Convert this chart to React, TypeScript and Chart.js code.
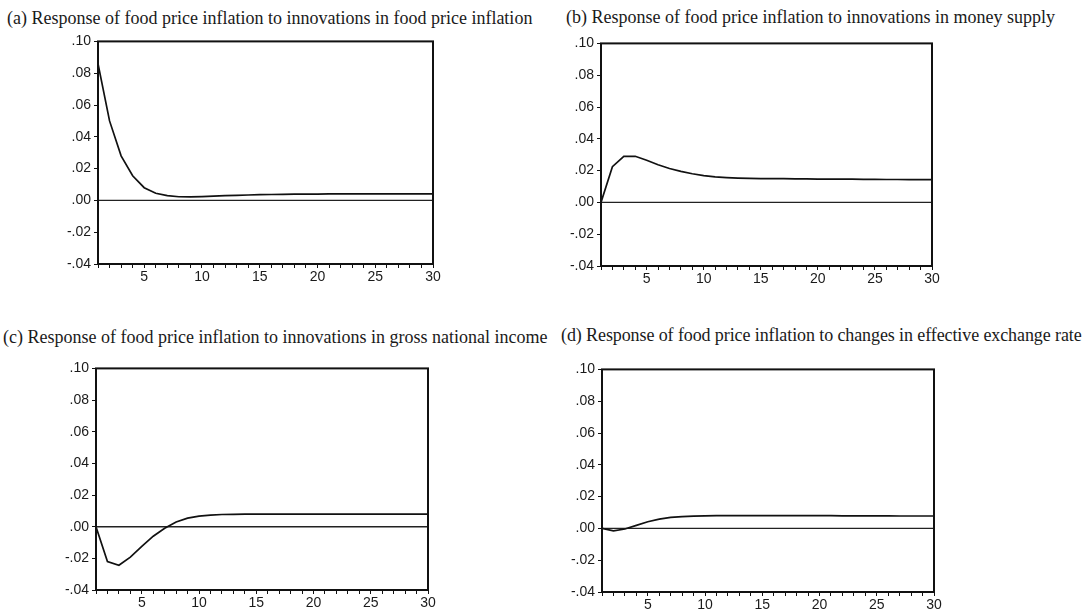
import { useEffect, useRef } from 'react';
import { Chart, registerables } from 'chart.js';

Chart.register(...registerables);

// Forecast horizon (periods after the shock)
const PERIODS = [1, 2, 3, 4, 5, 6, 7, 8, 9, 10, 11, 12, 13, 14, 15, 16, 17, 18, 19, 20, 21, 22, 23, 24, 25, 26, 27, 28, 29, 30];
const LABELED_PERIODS = [5, 10, 15, 20, 25, 30];

// Value axis (shared by all panels)
const Y_MIN = -0.04;
const Y_MAX = 0.1;
const Y_STEP = 0.02;

// Impulse responses of food price inflation
const RESP_FOOD_PRICE = [0.086, 0.05, 0.028, 0.0155, 0.008, 0.0045, 0.003, 0.0023, 0.0022, 0.0024, 0.0027, 0.003, 0.0032, 0.0034, 0.0036, 0.0037, 0.0038, 0.0039, 0.004, 0.004, 0.0041, 0.0041, 0.0041, 0.0041, 0.0041, 0.0041, 0.0041, 0.0041, 0.0041, 0.0041];
const RESP_MONEY_SUPPLY = [0.0, 0.0225, 0.029, 0.029, 0.0265, 0.0237, 0.0213, 0.0195, 0.018, 0.0168, 0.016, 0.0156, 0.0153, 0.0151, 0.015, 0.0149, 0.0149, 0.0148, 0.0148, 0.0147, 0.0147, 0.0146, 0.0146, 0.0145, 0.0145, 0.0144, 0.0144, 0.0143, 0.0143, 0.0143];
const RESP_GNI = [0.0, -0.022, -0.0244, -0.0192, -0.0125, -0.006, -0.001, 0.003, 0.0054, 0.0067, 0.0073, 0.0077, 0.0078, 0.0079, 0.0079, 0.0079, 0.0079, 0.0079, 0.0079, 0.0079, 0.0079, 0.0079, 0.0079, 0.0079, 0.0079, 0.0079, 0.0079, 0.0079, 0.0079, 0.0079];
const RESP_EXCHANGE_RATE = [0.0, -0.0015, -0.0004, 0.0019, 0.0042, 0.0058, 0.0069, 0.0074, 0.0077, 0.0079, 0.008, 0.008, 0.008, 0.008, 0.008, 0.008, 0.008, 0.008, 0.008, 0.008, 0.008, 0.0079, 0.0079, 0.0079, 0.0079, 0.0079, 0.0078, 0.0078, 0.0078, 0.0078];
const ZERO_LINE = [0, 0, 0, 0, 0, 0, 0, 0, 0, 0, 0, 0, 0, 0, 0, 0, 0, 0, 0, 0, 0, 0, 0, 0, 0, 0, 0, 0, 0, 0];

const TITLE_A = '(a) Response of food price inflation to innovations in food price inflation';
const TITLE_B = '(b) Response of food price inflation to innovations in money supply';
const TITLE_C = '(c) Response of food price inflation to innovations in gross national income';
const TITLE_D = '(d) Response of food price inflation to changes in effective exchange rate';

type Box = { l: number; t: number; r: number; b: number };

const Y_AXIS_W = 48;
const X_AXIS_H = 30;
const PAD_TOP = 10;
const PAD_RIGHT = 12;

// Closed box around the plotting area
const framePlugin = {
  id: 'frame',
  afterDatasetsDraw(chart: any) {
    const { ctx, chartArea } = chart;
    ctx.save();
    ctx.strokeStyle = '#111';
    ctx.lineWidth = 2;
    ctx.strokeRect(chartArea.left, chartArea.top, chartArea.right - chartArea.left, chartArea.bottom - chartArea.top);
    ctx.restore();
  },
};

// .10, .08, ..., .00, -.02 style labels
function formatValue(v: number): string {
  const s = Math.abs(v).toFixed(2).replace(/^0/, '');
  return v < -1e-9 ? '-' + s : s;
}

function Panel({ values, box }: { values: number[]; box: Box }) {
  const ref = useRef<HTMLCanvasElement | null>(null);
  const width = box.r - box.l + Y_AXIS_W + PAD_RIGHT;
  const height = box.b - box.t + PAD_TOP + X_AXIS_H;

  useEffect(() => {
    if (!ref.current) return;
    const tickFont = { family: '"Liberation Sans", Arial, sans-serif', size: 14 };
    const chart = new Chart(ref.current, {
      type: 'line',
      data: {
        datasets: [
          {
            data: PERIODS.map((p, i) => ({ x: p, y: values[i] })),
            borderColor: '#111',
            borderWidth: 1.7,
            pointRadius: 0,
            tension: 0,
            fill: false,
          },
          {
            data: PERIODS.map((p, i) => ({ x: p, y: ZERO_LINE[i] })),
            borderColor: '#222',
            borderWidth: 1.4,
            pointRadius: 0,
            tension: 0,
            fill: false,
          },
        ],
      },
      options: {
        responsive: false,
        animation: false,
        devicePixelRatio: 1,
        layout: { padding: { top: PAD_TOP, right: PAD_RIGHT, left: 0, bottom: 0 } },
        plugins: { legend: { display: false }, tooltip: { enabled: false }, title: { display: false } },
        scales: {
          x: {
            type: 'linear',
            min: PERIODS[0],
            max: PERIODS[PERIODS.length - 1],
            border: { display: false },
            grid: { drawOnChartArea: false, drawTicks: true, tickLength: 4, color: '#111', lineWidth: 1 },
            ticks: {
              stepSize: 1,
              autoSkip: false,
              maxRotation: 0,
              padding: 1,
              color: '#1a1a1a',
              font: tickFont,
              callback: (v: any) => (LABELED_PERIODS.includes(Number(v)) ? String(v) : ''),
            },
            afterFit: (scale: any) => {
              scale.height = X_AXIS_H;
            },
          },
          y: {
            type: 'linear',
            min: Y_MIN,
            max: Y_MAX,
            border: { display: false },
            grid: { drawOnChartArea: false, drawTicks: true, tickLength: 4, color: '#111', lineWidth: 1 },
            ticks: {
              stepSize: Y_STEP,
              padding: 3,
              color: '#1a1a1a',
              font: tickFont,
              callback: (v: any) => formatValue(Number(v)),
            },
            afterFit: (scale: any) => {
              scale.width = Y_AXIS_W;
            },
          },
        },
      },
      plugins: [framePlugin],
    });
    return () => chart.destroy();
  }, [values]);

  return (
    <canvas
      ref={ref}
      width={width}
      height={height}
      style={{ position: 'absolute', left: box.l - Y_AXIS_W, top: box.t - PAD_TOP, width, height }}
    />
  );
}

function Title({ text, x, baseline, spacing = 0 }: { text: string; x: number; baseline: number; spacing?: number }) {
  return (
    <div
      style={{
        position: 'absolute',
        left: x,
        top: baseline - 15,
        fontFamily: '"Liberation Serif", "Times New Roman", serif',
        fontSize: 18,
        lineHeight: '18px',
        letterSpacing: spacing,
        color: '#1a1a1a',
        whiteSpace: 'nowrap',
      }}
    >
      {text}
    </div>
  );
}

export default function App() {
  return (
    <div style={{ position: 'fixed', left: 0, top: 0, width: 1091, height: 609, background: '#fff', overflow: 'hidden' }}>
      <Title text={TITLE_A} x={7} baseline={24} />
      <Title text={TITLE_B} x={566} baseline={23} />
      <Title text={TITLE_C} x={3} baseline={343} />
      <Title text={TITLE_D} x={561} baseline={341} spacing={-0.1} />
      <Panel values={RESP_FOOD_PRICE} box={{ l: 98, t: 40, r: 433, b: 264 }} />
      <Panel values={RESP_MONEY_SUPPLY} box={{ l: 601, t: 42, r: 932, b: 266 }} />
      <Panel values={RESP_GNI} box={{ l: 96, t: 367, r: 428, b: 590 }} />
      <Panel values={RESP_EXCHANGE_RATE} box={{ l: 602, t: 368, r: 934, b: 592 }} />
    </div>
  );
}
